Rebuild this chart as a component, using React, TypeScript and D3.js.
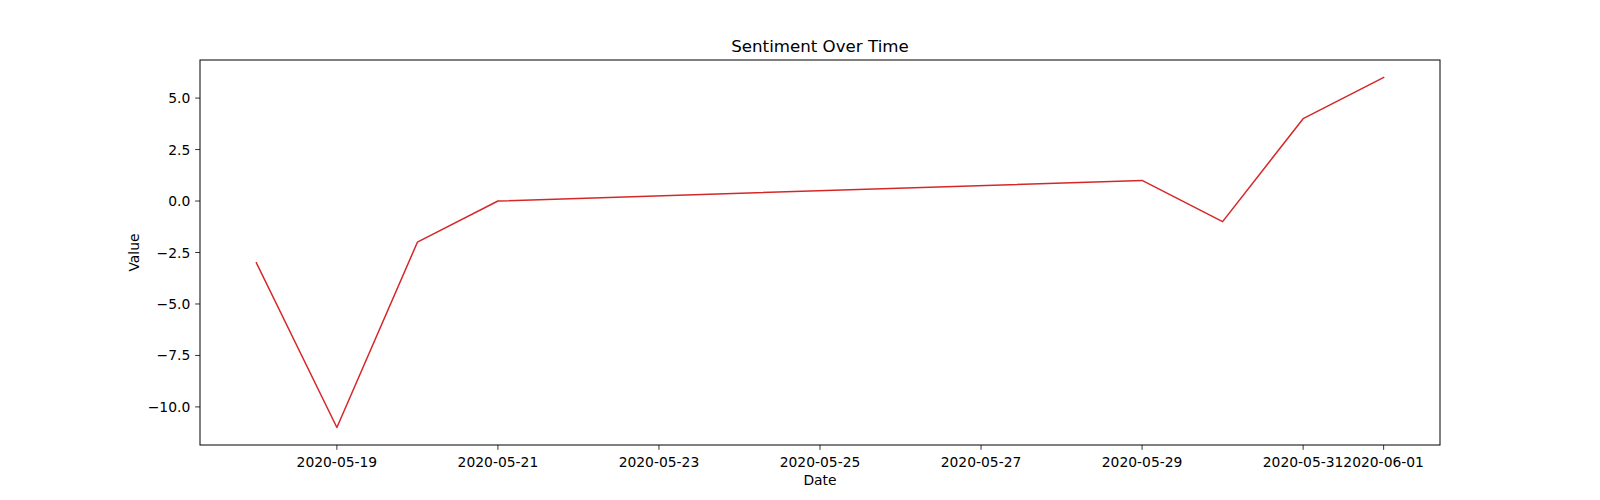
import React from "react";
import * as d3 from "d3";

const dates = ["2020-05-18", "2020-05-19", "2020-05-20", "2020-05-21", "2020-05-29", "2020-05-30", "2020-05-31", "2020-06-01"];
const values = [-3, -11, -2, 0, 1, -1, 4, 6];
const xTickLabels = ["2020-05-19", "2020-05-21", "2020-05-23", "2020-05-25", "2020-05-27", "2020-05-29", "2020-05-31", "2020-06-01"];
const yTicks = [-10, -7.5, -5, -2.5, 0, 2.5, 5];

const W = 1600, H = 500;
const L = 200, R = 1440, T = 60, B = 445;
const font = "DejaVu Sans, sans-serif";
const fs = 13.89;

export default function App() {
  const parse = d3.utcParse("%Y-%m-%d");
  const xs = dates.map((d) => parse(d)!);
  const x0 = +xs[0], x1 = +xs[xs.length - 1];
  const xm = (x1 - x0) * 0.05;
  const x = d3.scaleUtc().domain([new Date(x0 - xm), new Date(x1 + xm)]).range([L, R]);
  const ymin = d3.min(values)!, ymax = d3.max(values)!;
  const ym = (ymax - ymin) * 0.05;
  const y = d3.scaleLinear().domain([ymin - ym, ymax + ym]).range([B, T]);
  const line = d3.line<number>().x((_, i) => x(xs[i])).y((v) => y(v));
  const fmt = (v: number) => v.toFixed(1).replace("-", "\u2212");
  return (
    <svg width={W} height={H} style={{ display: "block", position: "absolute", left: 0, top: 0 }}>
      <rect width={W} height={H} fill="#fff" />
      <path d={line(values)!} fill="none" stroke="#d62728" strokeWidth={1.5} strokeLinejoin="round" strokeLinecap="square" />
      <rect x={L} y={T} width={R - L} height={B - T} fill="none" stroke="#000" strokeWidth={1} />
      {xTickLabels.map((t) => {
        const px = x(parse(t)!);
        return (
          <g key={t}>
            <line x1={px} x2={px} y1={B} y2={B + 4.86} stroke="#000" strokeWidth={0.8} />
            <text x={px} y={466.5} textAnchor="middle" fontFamily={font} fontSize={fs} fill="#000">{t}</text>
          </g>
        );
      })}
      {yTicks.map((v) => {
        const py = y(v);
        return (
          <g key={v}>
            <line x1={L - 4.86} x2={L} y1={py} y2={py} stroke="#000" strokeWidth={0.8} />
            <text x={L - 9.72} y={py} dy="0.36em" textAnchor="end" fontFamily={font} fontSize={fs} fill="#000">{fmt(v)}</text>
          </g>
        );
      })}
      <text x={(L + R) / 2} y={51.7} textAnchor="middle" fontFamily={font} fontSize={16.67} fill="#000">Sentiment Over Time</text>
      <text x={(L + R) / 2} y={485} textAnchor="middle" fontFamily={font} fontSize={fs} fill="#000">Date</text>
      <text transform={`translate(138.5,${(T + B) / 2}) rotate(-90)`} textAnchor="middle" fontFamily={font} fontSize={fs} fill="#000">Value</text>
    </svg>
  );
}
